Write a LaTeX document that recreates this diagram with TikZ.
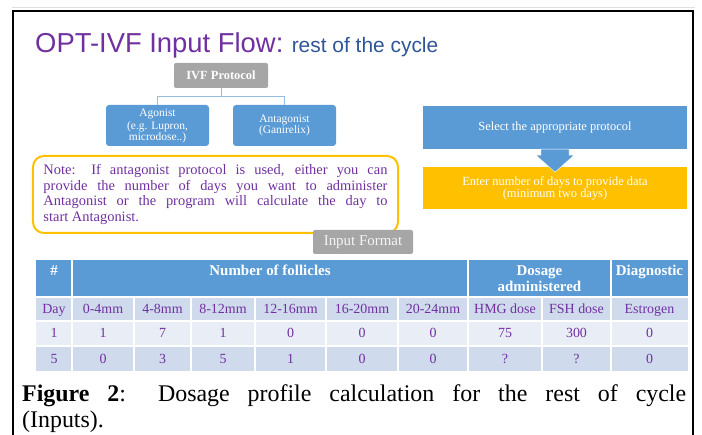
\documentclass[tikz,border=0pt]{standalone}
\usepackage{fontspec}
\setmainfont{Liberation Serif}
\newfontfamily\headfont{Liberation Sans}
\usetikzlibrary{calc}
\definecolor{titlepurple}{RGB}{112,48,160}
\definecolor{subblue}{RGB}{47,85,151}
\definecolor{boxblue}{RGB}{91,155,213}
\definecolor{boxgrey}{RGB}{166,166,166}
\definecolor{gold}{RGB}{255,192,0}
\definecolor{rowdark}{RGB}{207,218,237}
\definecolor{rowlight}{RGB}{233,237,246}
\colorlet{linkblue}{boxblue!65}
\newcommand{\fs}[2]{\fontsize{#1}{#2}\selectfont}
\def\colx{{54,103,162.5,223,290.5,362,433,505,576.5,649.5}}

\begin{document}
\begin{tikzpicture}[x=1bp,y=-1bp,
  greybox/.style={fill=boxgrey,rounded corners=2bp,text=white,inner sep=0pt},
  protobox/.style={fill=boxblue,rounded corners=3bp,text=white,align=center,
    minimum width=103bp,minimum height=41bp,inner sep=0pt,font=\fs{11.5}{10.5}},
  stepbox/.style={minimum width=264bp,inner sep=0pt,text=white,align=center,font=\fs{12.5}{12}},
  link/.style={draw=linkblue,line width=1bp},
  cellline/.style={white,line width=1.5bp},
  headcell/.style={anchor=base,inner sep=0pt,text=white,align=center,font=\fs{15}{16.5}\bfseries},
  cell/.style={anchor=base,inner sep=0pt,text=titlepurple,font=\fs{14}{14}}]
  \useasboundingbox (0,0) rectangle (702,435);
  % frame
  \draw[gray!25,line width=1bp] (12,8) -- (695,8);
  \draw[line width=2bp] (13,440) -- (13,11) -- (693,11) -- (693,440);
  % title
  \node[anchor=base west,inner sep=0pt,text=titlepurple,font=\headfont\fs{27.5}{27}] (title) at (35,53) {OPT-IVF Input Flow:};
  \node[anchor=base west,inner sep=0pt,text=subblue,font=\headfont\fs{21}{21}] (subtitle) at ([xshift=8bp]title.base east) {rest of the cycle};
  % protocol tree
  \node[greybox,minimum width=94bp,minimum height=25bp,font=\fs{12.5}{12}\bfseries] (ivf) at (221,75.5) {IVF Protocol};
  \node[protobox] (ago) at (157.5,125.5) {Agonist\\[3bp](e.g. Lupron,\\microdose..)};
  \node[protobox] (anta) at (284.5,125.5) {Antagonist\\(Ganirelix)};
  \draw[link] (ivf.south) -- ++(0,8.5) -| (ago.north);
  \draw[link] (ivf.south) -- ++(0,8.5) -| (anta.north);
  % steps on the right
  \node[stepbox,fill=boxblue,minimum height=43bp] (select) at (555,127.5) {Select the appropriate protocol};
  \node[stepbox,fill=gold,minimum height=42bp] (days) at (555,188) {Enter number of days to provide data\\(minimum two days)};
  \path (select.south) ++(0,23) coordinate (tip);
  \filldraw[fill=boxblue,draw=white,line width=0.4bp] ($(select.south)+(-14,0)$) -- ++(0,6) -- ++(-5,0) -- (tip) -- ++(19,-17) -- ++(-5,0) -- ++(0,-6) -- cycle;
  % note
  \node[draw=gold,line width=2bp,rounded corners=11bp,minimum width=365bp,minimum height=77bp,
    text width=344bp,align=justify,text=titlepurple,font=\fs{14.5}{15.6}] (note) at (215.5,194.5)
    {\hbadness=10000 Note: If antagonist protocol is used, either you can\linebreak
     provide the number of days you want to administer\linebreak
     Antagonist or the program will calculate the day to\linebreak
     start Antagonist.};
  \node[greybox,text=white!92!gray,minimum width=100bp,minimum height=24bp,font=\fs{15}{15}] (format) at (363,242) {Input Format};
  % table
  \fill[boxblue] (36,260) rectangle (688,297);
  \fill[rowdark] (36,297) rectangle (688,321);
  \fill[rowlight] (36,321) rectangle (688,346);
  \fill[rowdark] (36,346) rectangle (688,371);
  \foreach \x in {134,191,255,326,398,542} \draw[cellline] (\x,297) -- (\x,371);
  \foreach \x in {72,468,611} \draw[cellline] (\x,260) -- (\x,371);
  \foreach \y in {297,321,346} \draw[cellline] (36,\y) -- (688,\y);
  \node[headcell] (h-num) at (54,276) {\#};
  \node[headcell] (h-foll) at (270,276) {Number of follicles};
  \node[headcell] (h-dose) at (539.5,292) {Dosage\\administered};
  \node[headcell] (h-diag) at (649.5,276) {Diagnostic};
  \foreach \txt [count=\c] in {Day,0-4mm,4-8mm,8-12mm,12-16mm,16-20mm,20-24mm,HMG dose,FSH dose,Estrogen} {
    \pgfmathsetmacro\cx{\colx[\c-1]}
    \node[cell] (day-\c) at (\cx,313.5) {\txt};
  }
  \foreach \txt [count=\c] in {1,1,7,1,0,0,0,75,300,0} {
    \pgfmathsetmacro\cx{\colx[\c-1]}
    \node[cell] (one-\c) at (\cx,338) {\txt};
  }
  \foreach \txt [count=\c] in {5,0,3,5,1,0,0,?,?,0} {
    \pgfmathsetmacro\cx{\colx[\c-1]}
    \node[cell] (five-\c) at (\cx,363) {\txt};
  }
  % caption
  \node[anchor=north west,inner sep=0pt,text width=664bp,align=justify,font=\fs{24}{27}] (caption) at (22,384)
    {\textbf{Figure 2}: Dosage profile calculation for the rest of cycle\linebreak (Inputs).};
\end{tikzpicture}
\end{document}
